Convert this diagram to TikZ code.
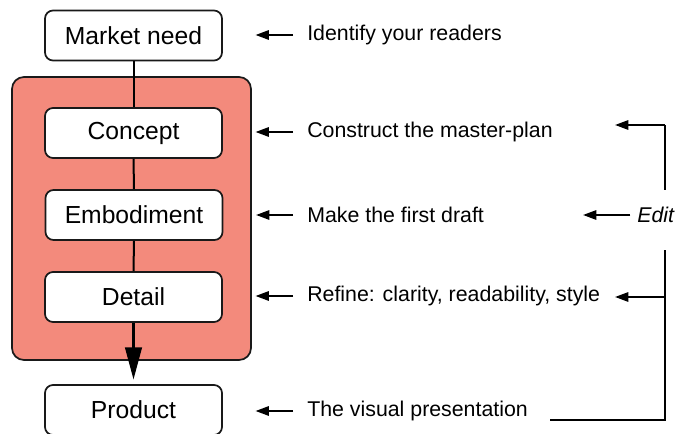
\documentclass[tikz,border=0pt]{standalone}
\usepackage{fontspec}
\setmainfont{Liberation Sans}
\usetikzlibrary{arrows.meta}
\definecolor{salmon}{RGB}{243,138,124}
\definecolor{edge}{RGB}{25,25,25}
\tikzset{
  stage/.style={draw=edge, line width=1.3pt, fill=white, rounded corners=6pt,
    minimum width=132.75pt, minimum height=37.5pt, inner sep=0pt,
    font=\fontsize{18.5pt}{20pt}\selectfont},
  side/.style={anchor=west, inner sep=0pt, font=\fontsize{16pt}{18pt}\selectfont},
  sarrow/.style={line width=1.5pt, -{Triangle[length=10pt,width=7pt]}},
  bline/.style={line width=1.5pt},
}
\begin{document}
\begin{tikzpicture}[x=0.75pt,y=-0.75pt]
\clip (0,0) rectangle (683,434);
\fill[white] (0,0) rectangle (683,434);
% container
\node[draw=edge, line width=1.3pt, fill=salmon, rounded corners=9pt,
  minimum width=179.25pt, minimum height=212.25pt, inner sep=0pt] (box) at (131.5,218.5) {};
% stages
\node[stage] (mn) at (133.5,35.5) {Market need};
\node[stage] (co) at (133.5,133) {Concept};
\node[stage] (em) at (134,215) {Embodiment};
\node[stage] (de) at (133.5,297) {Detail};
\node[stage] (pr) at (133.5,410) {Product};
% main flow line
\draw[bline] (mn.south) -- (co.north);
\draw[bline] (co.south) -- (em.north);
\draw[bline] (em.south) -- (de.north);
\draw[line width=1.6pt, -{Triangle[length=24pt,width=12.5pt]}] (de.south) -- ([yshift=3.5pt]pr.north);
% side texts
\node[side] (t1) at (307,35) {Identify your readers};
\node[side] (t2) at (307,132) {Construct the master-plan};
\node[side] (t3) at (307,215) {Make the first draft};
\node[side] (t4) at (307,296) {Refine: clarity, readability, style};
\node[side] (t5) at (307,411) {The visual presentation};
\node[side, font=\fontsize{16pt}{18pt}\selectfont\itshape] (ed) at (637,215) {Edit};
% side arrows
\draw[sarrow] ([xshift=-10.5pt]t1.west) -- ([xshift=24.5pt]mn.east |- t1.west);
\draw[sarrow] ([xshift=-10.5pt]t2.west) -- ([xshift=24.5pt]co.east |- t2.west);
\draw[sarrow] ([xshift=-10.5pt]t3.west) -- ([xshift=24.5pt]em.east |- t3.west);
\draw[sarrow] ([xshift=-10.5pt]t4.west) -- ([xshift=24.5pt]de.east |- t4.west);
\draw[sarrow] ([xshift=-10.5pt]t5.west) -- ([xshift=24.5pt]pr.east |- t5.west);
% edit bracket
\coordinate (btop) at (665,125);
\coordinate (bgap1) at (665,190);
\coordinate (bgap2) at (665,250);
\coordinate (bbot) at (665,420);
\coordinate (bstart) at (550,420);
\coordinate (tip2) at (615,125);
\coordinate (tip4) at (615,297);
\coordinate (tipe) at (583,215);
\draw[bline] (bgap1) -- (btop);
\draw[sarrow] (btop) -- (tip2);
\draw[bline] (bstart) -- (bbot) -- (bgap2);
\draw[sarrow] (bbot |- tip4) -- (tip4);
\draw[sarrow] ([xshift=-5pt]ed.west) -- (tipe);
\end{tikzpicture}
\end{document}
